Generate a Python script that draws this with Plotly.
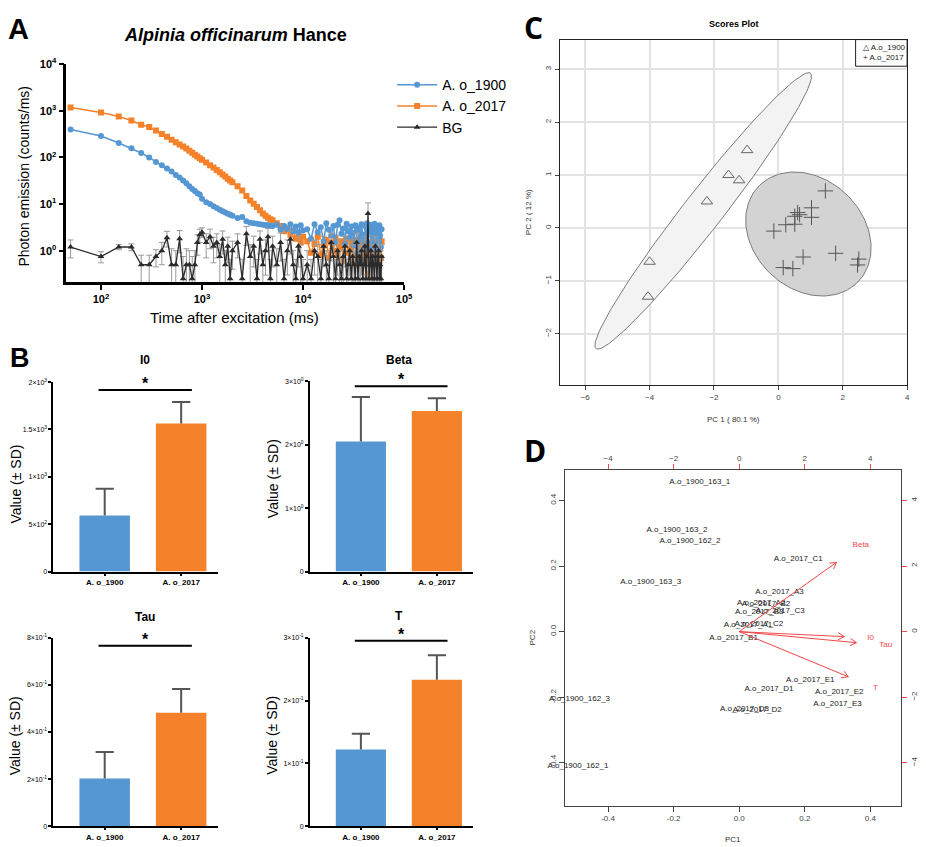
import numpy as np
import plotly.graph_objects as go

W, H = 926, 847
FONT = "Liberation Sans, Arial, sans-serif"
BLUE = "#5597d3"
ORANGE = "#f5822a"
DARK = "#2b2b2b"
RED = "#f04848"
ERR = "#555555"


def px(x):
    return x / W


def py(y):
    return 1 - y / H


# ---------------- Panel A data (delayed luminescence decay) ----------------
time_ms = (list(range(50, 1001, 50)) + list(range(1100, 2001, 100))
           + list(range(2250, 5001, 250)) + list(range(5500, 10001, 500))
           + list(range(11000, 60001, 1000)))

ao1900 = [400, 290, 205, 158, 125, 100, 80, 68, 58, 50, 42, 37, 32, 28, 24, 21, 19, 17, 16, 13,
          11, 10, 9, 8.2, 7.6, 7.0, 6.6, 6.2, 5.9, 5.6,
          5.0, 5.3, 4.3, 4.0, 3.9, 3.8, 3.7, 3.6, 3.55, 3.5, 3.45, 3.4,
          3.6, 2.8, 3.4, 2.9, 3.7, 2.6, 3.3, 2.5, 3.5, 2.7,
          2.9, 1.8, 3.7, 2.5, 3.2, 1.6, 3.9, 2.8, 2.1, 3.4,
          1.5, 3.6, 4.5, 2.3, 3.0, 1.4, 3.8, 2.6, 1.9, 3.3,
          2.4, 1.3, 3.5, 2.7, 0.9, 3.1, 1.7, 3.7, 2.2, 1.2,
          3.4, 2.0, 3.9, 1.5, 2.8, 3.6, 1.1, 2.5, 3.2, 1.6,
          3.8, 2.3, 1.0, 3.3, 2.6, 1.4, 3.5, 2.1, 1.2, 2.9]

ao2017 = [1175, 920, 760, 620, 505, 450, 380, 320, 277, 240, 212, 190, 172, 155, 140, 127, 115, 105, 96, 89,
          78, 68, 61, 54, 48, 43, 39, 35, 32, 29.5,
          24, 19.5, 15, 12, 10.2, 8.7, 7.4, 6.3, 5.6, 5.1, 4.7, 4.5,
          3.9, 3.4, 2.6, 3.0, 2.2, 2.7, 1.8, 2.4, 1.5, 2.0,
          1.6, 0.9, 1.4, 2.0, 0.8, 1.3, 1.7, 0.7, 1.5, 1.0,
          1.9, 0.8, 1.2, 1.6, 0.6, 1.4, 1.8, 0.9, 1.1, 1.5,
          0.6, 1.3, 1.7, 0.8, 1.2, 0.5, 1.6, 0.9, 1.3, 0.7,
          1.5, 0.6, 1.1, 1.4, 0.32, 1.0, 0.5, 0.8, 1.3, 0.6,
          1.2, 0.7, 1.5, 0.5, 0.9, 1.3, 0.6, 1.1, 0.7, 1.6]

bg = [1.2, 0.75, 1.2, 1.2, 0.5, 0.5, 0.75, 1.0, 1.9, 0.5, 0.5, 1.8, 0.25, 0.5, 0.5, 0.25, 0.5, 1.5, 2.2, 2.5,
      1.5, 2.0, 1.25, 1.5, 0.75, 1.75, 0.5, 1.25, 0.25, 1.0,
      1.5, 0.25, 2.3, 0.75, 1.25, 0.25, 1.75, 0.5, 1.0, 2.0, 0.25, 1.25,
      0.5, 1.5, 0.25, 1.0, 1.75, 0.5, 0.25, 1.25, 0.75, 0.25,
      0.5, 0.25, 1.0, 0.75, 0.25, 1.25, 0.5, 0.25, 1.5, 0.75,
      0.25, 1.0, 0.5, 0.25, 0.75, 1.25, 0.25, 0.5, 1.0, 0.25,
      0.75, 0.5, 0.25, 1.5, 0.25, 0.75, 0.5, 1.0, 0.25, 0.5,
      1.25, 0.25, 0.75, 6.3, 0.25, 0.5, 1.0, 0.25, 0.75, 0.5,
      0.25, 1.25, 0.5, 0.25, 0.75, 1.0, 0.25, 0.5, 0.25, 0.75]

bg_sd = [0.5, 0.2, 0.15, 0.2, 0.3, 0.3, 0.3, 0.5, 0.7, 0.6, 0.5, 0.9, 0.5, 0.6, 0.5, 0.5, 0.5, 0.7, 0.7, 0.6,
         0.8, 0.9, 0.7, 0.8, 0.6, 0.9, 0.5, 0.7, 0.4, 0.6,
         0.8, 0.4, 1.0, 0.6, 0.8, 0.4, 0.9, 0.5, 0.7, 1.0, 0.4, 0.8,
         0.6, 0.9, 0.4, 0.7, 0.9, 0.5, 0.4, 0.8, 0.6, 0.4,
         0.5, 0.4, 0.7, 0.6, 0.4, 0.8, 0.5, 0.4, 0.9, 0.6,
         0.4, 0.7, 0.5, 0.4, 0.6, 0.8, 0.4, 0.5, 0.7, 0.4,
         0.6, 0.5, 0.4, 0.9, 0.4, 0.6, 0.5, 0.7, 0.4, 0.5,
         0.8, 0.4, 0.6, 4.3, 0.4, 0.5, 0.7, 0.4, 0.6, 0.5,
         0.4, 0.8, 0.5, 0.4, 0.6, 0.7, 0.4, 0.5, 0.4, 0.6]

# ---------------- Panel B data (fit parameters, mean ± SD) ----------------
groups = ["A. o_1900", "A. o_2017"]
i0_mean, i0_sd = [591, 1562], [282, 229]
beta_mean, beta_sd = [2.05, 2.53], [0.70, 0.20]
tau_mean, tau_sd = [0.203, 0.482], [0.112, 0.100]
t_mean, t_sd = [0.122, 0.233], [0.025, 0.039]

# ---------------- Panel C data (PCA scores) ----------------
pc1_1900 = [-0.97, -1.55, -1.22, -2.22, -4.00, -4.05]
pc2_1900 = [1.47, 1.00, 0.90, 0.50, -0.64, -1.30]
pc1_2017 = [1.46, 1.03, 1.03, 0.60, 0.51, 0.66, 0.51, 0.23, -0.14, 0.77, 1.78, 2.50, 2.46, 0.15, 0.45]
pc2_2017 = [0.70, 0.38, 0.20, 0.29, 0.22, 0.25, 0.07, 0.06, -0.06, -0.55, -0.48, -0.59, -0.70, -0.75, -0.77]

# ---------------- Panel D data (biplot) ----------------
sample_names = ["A.o_1900_163_1", "A.o_1900_163_2", "A.o_1900_162_2", "A.o_1900_163_3",
                "A.o_1900_162_3", "A.o_1900_162_1",
                "A.o_2017_C1", "A.o_2017_A3", "A.o_2017_A2", "A.o_2017_B2", "A.o_2017_B3",
                "A.o_2017_C3", "A.o_2017_A1", "A.o_2017_C2", "A.o_2017_B1", "A.o_2017_E1",
                "A.o_2017_D1", "A.o_2017_E2", "A.o_2017_E3", "A.o_2017_D3", "A.o_2017_D2"]
sample_pc1 = [-0.12, -0.19, -0.15, -0.27, -0.487, -0.492,
              0.18, 0.123, 0.067, 0.082, 0.061, 0.125, 0.027, 0.060, -0.017, 0.217,
              0.091, 0.305, 0.300, 0.016, 0.055]
sample_pc2 = [0.456, 0.310, 0.276, 0.152, -0.205, -0.409,
              0.220, 0.120, 0.088, 0.085, 0.060, 0.064, 0.020, 0.022, -0.019, -0.148,
              -0.175, -0.184, -0.220, -0.235, -0.239]
var_names = ["Beta", "I0", "Tau", "T"]
load_pc1 = [3.71, 4.01, 4.47, 4.16]
load_pc2 = [2.64, -0.19, -0.42, -1.72]

fig = go.Figure()

# ---------------- Panel A traces ----------------
fig.add_trace(go.Scatter(x=time_ms, y=ao2017, mode="lines+markers", name="A. o_2017",
                         line=dict(color=ORANGE, width=1.5),
                         marker=dict(symbol="square", size=6, color=ORANGE),
                         xaxis="x", yaxis="y", legendgroup="g2", legendrank=2))
fig.add_trace(go.Scatter(x=time_ms, y=ao1900, mode="lines+markers", name="A. o_1900",
                         line=dict(color=BLUE, width=1.5),
                         marker=dict(symbol="circle", size=6, color=BLUE),
                         xaxis="x", yaxis="y", legendgroup="g1", legendrank=1))
fig.add_trace(go.Scatter(x=time_ms, y=bg, mode="lines+markers", name="BG",
                         line=dict(color=DARK, width=1.3),
                         marker=dict(symbol="triangle-up", size=6, color=DARK),
                         error_y=dict(type="data", array=bg_sd, color="#9a9a9a",
                                      thickness=1, width=3),
                         xaxis="x", yaxis="y", legendgroup="g3", legendrank=3))

# ---------------- Panel B traces ----------------
bar_sets = [(i0_mean, i0_sd, 2), (beta_mean, beta_sd, 3), (tau_mean, tau_sd, 4), (t_mean, t_sd, 5)]
for means, sds, k in bar_sets:
    fig.add_trace(go.Bar(x=[0, 1], y=means, width=0.66,
                         marker=dict(color=[BLUE, ORANGE], line=dict(width=0)),
                         xaxis=f"x{k}", yaxis=f"y{k}", showlegend=False))
    tops = [m + s for m, s in zip(means, sds)]
    stem_x, stem_y = [], []
    for i, (m, tp) in enumerate(zip(means, tops)):
        stem_x += [i, i, None]
        stem_y += [m, tp, None]
    fig.add_trace(go.Scatter(x=stem_x, y=stem_y, mode="lines", line=dict(color=ERR, width=2),
                             xaxis=f"x{k}", yaxis=f"y{k}", showlegend=False, hoverinfo="skip"))
    fig.add_trace(go.Scatter(x=[0, 1], y=tops, mode="markers",
                             marker=dict(symbol="line-ew-open", size=13, color=ERR,
                                         line=dict(color=ERR, width=2)),
                             xaxis=f"x{k}", yaxis=f"y{k}", showlegend=False, hoverinfo="skip"))


# ---------------- Panel C traces ----------------
def conf_ellipse(xs, ys, n=160):
    xs, ys = np.asarray(xs), np.asarray(ys)
    cov = np.cov(xs, ys)
    vals, vecs = np.linalg.eigh(cov)
    r = np.sqrt(5.991)  # 95 % region, 2 dof
    t = np.linspace(0, 2 * np.pi, n)
    circ = np.vstack([np.cos(t), np.sin(t)])
    pts = vecs @ (np.sqrt(vals)[:, None] * circ) * r
    return xs.mean() + pts[0], ys.mean() + pts[1]


ex1, ey1 = conf_ellipse(pc1_1900, pc2_1900)
ex2, ey2 = conf_ellipse(pc1_2017, pc2_2017)
fig.add_trace(go.Scatter(x=ex1, y=ey1, mode="lines", fill="toself", fillcolor="#f3f3f3",
                         line=dict(color="#7a7a7a", width=1), xaxis="x6", yaxis="y6",
                         showlegend=False, hoverinfo="skip"))
fig.add_trace(go.Scatter(x=ex2, y=ey2, mode="lines", fill="toself", fillcolor="#d3d3d3",
                         line=dict(color="#7a7a7a", width=1), xaxis="x6", yaxis="y6",
                         showlegend=False, hoverinfo="skip"))
fig.add_trace(go.Scatter(x=pc1_1900, y=pc2_1900, mode="markers", name="A.o_1900",
                         marker=dict(symbol="triangle-up-open", size=10, color="#666666",
                                     line=dict(width=1)),
                         xaxis="x6", yaxis="y6", showlegend=False))
fig.add_trace(go.Scatter(x=pc1_2017, y=pc2_2017, mode="markers", name="A.o_2017",
                         marker=dict(symbol="cross-thin-open", size=11, color="#555555",
                                     line=dict(width=1, color="#555555")),
                         xaxis="x6", yaxis="y6", showlegend=False))

# ---------------- Panel D traces ----------------
fig.add_trace(go.Scatter(x=sample_pc1, y=sample_pc2, mode="text", text=sample_names,
                         textfont=dict(size=8, color="#222222", family=FONT),
                         textposition="middle center", cliponaxis=False,
                         xaxis="x7", yaxis="y7", showlegend=False))
ax_x, ax_y = [], []
hl = 0.22
for lx, ly in zip(load_pc1, load_pc2):
    tx, ty = 0.8 * lx, 0.8 * ly
    ang = np.arctan2(ty, tx)
    ax_x += [0, tx, None,
             tx - hl * np.cos(ang - np.pi / 6), tx, tx - hl * np.cos(ang + np.pi / 6), None]
    ax_y += [0, ty, None,
             ty - hl * np.sin(ang - np.pi / 6), ty, ty - hl * np.sin(ang + np.pi / 6), None]
fig.add_trace(go.Scatter(x=ax_x, y=ax_y, mode="lines", line=dict(color=RED, width=1),
                         xaxis="x8", yaxis="y8", showlegend=False, hoverinfo="skip"))
fig.add_trace(go.Scatter(x=load_pc1, y=load_pc2, mode="text", text=var_names,
                         textfont=dict(size=8, color=RED, family=FONT),
                         textposition="middle center", cliponaxis=False,
                         xaxis="x8", yaxis="y8", showlegend=False))

# ---------------- Axes ----------------
sup = lambda e: f"<b>10<sup>{e}</sup></b>"
layout_axes = {}
layout_axes["xaxis"] = dict(type="log", range=[1.657, 5.0], domain=[px(67), px(408)], anchor="y",
                            showline=True, linecolor="black", linewidth=2.5, ticks="outside",
                            ticklen=5, tickwidth=2, tickcolor="black",
                            tickvals=[100, 1000, 10000, 100000], ticktext=[sup(2), sup(3), sup(4), sup(5)],
                            tickfont=dict(size=11, color="black"), showgrid=False, zeroline=False)
layout_axes["yaxis"] = dict(type="log", range=[-0.68, 4.0], domain=[py(278), py(57)], anchor="x",
                            showline=True, linecolor="black", linewidth=2.5, ticks="outside",
                            ticklen=5, tickwidth=2, tickcolor="black",
                            tickvals=[1, 10, 100, 1000, 10000],
                            ticktext=[sup(0), sup(1), sup(2), sup(3), sup(4)],
                            tickfont=dict(size=11, color="black"), showgrid=False, zeroline=False)

b_specs = {
    2: ([54, 220], [379, 571], [0, 2000], [0, 500, 1000, 1500, 2000],
        ["0", "5×10<sup>2</sup>", "1×10<sup>3</sup>", "1.5×10<sup>3</sup>", "2×10<sup>3</sup>"]),
    3: ([313, 478], [378, 571], [0, 3], [0, 1, 2, 3],
        ["0", "1×10<sup>0</sup>", "2×10<sup>0</sup>", "3×10<sup>0</sup>"]),
    4: ([54, 220], [638, 829], [0, 0.8], [0, 0.2, 0.4, 0.6, 0.8],
        ["0", "2×10<sup>-1</sup>", "4×10<sup>-1</sup>", "6×10<sup>-1</sup>", "8×10<sup>-1</sup>"]),
    5: ([313, 478], [638, 829], [0, 0.3], [0, 0.1, 0.2, 0.3],
        ["0", "1×10<sup>-1</sup>", "2×10<sup>-1</sup>", "3×10<sup>-1</sup>"]),
}
for k, (xd, yd, yr, tv, tt) in b_specs.items():
    layout_axes[f"xaxis{k}"] = dict(domain=[px(xd[0]), px(xd[1])], range=[-0.67, 1.48], anchor=f"y{k}",
                                    tickvals=[0, 1], ticktext=[f"<b>{g}</b>" for g in groups],
                                    tickfont=dict(size=8, color="black"), showline=True,
                                    linecolor="black", linewidth=2, ticks="outside", ticklen=2,
                                    tickwidth=1.5, tickcolor="black", showgrid=False, zeroline=False)
    layout_axes[f"yaxis{k}"] = dict(domain=[py(yd[1]), py(yd[0])], range=yr, anchor=f"x{k}",
                                    tickvals=tv, ticktext=tt, tickfont=dict(size=7, color="black"),
                                    showline=True, linecolor="black", linewidth=2, ticks="outside",
                                    ticklen=3, tickwidth=1.5, tickcolor="black", showgrid=False,
                                    zeroline=False)

layout_axes["xaxis6"] = dict(domain=[px(565), px(916)], range=[-6.8, 4.0], anchor="y6",
                             tickvals=[-6, -4, -2, 0, 2, 4], showgrid=True, gridcolor="#e2e2e2",
                             gridwidth=1.5, showline=True, mirror=True, linecolor="#222222",
                             linewidth=1, ticks="outside", ticklen=4, tickcolor="#444444",
                             tickfont=dict(size=8, color="#444444"), zeroline=False)
layout_axes["yaxis6"] = dict(domain=[py(382), py(32)], range=[-2.97, 3.56], anchor="x6",
                             tickvals=[-2, -1, 0, 1, 2, 3], showgrid=True, gridcolor="#e2e2e2",
                             gridwidth=1.5, showline=True, mirror=True, linecolor="#222222",
                             linewidth=1, ticks="outside", ticklen=4, tickcolor="#444444",
                             tickangle=-90, tickfont=dict(size=8, color="#444444"), zeroline=False)

layout_axes["xaxis7"] = dict(domain=[px(571), px(910)], range=[-0.53, 0.494], anchor="y7",
                             tickvals=[-0.4, -0.2, 0.0, 0.2, 0.4],
                             ticktext=["-0.4", "-0.2", "0.0", "0.2", "0.4"],
                             showline=True, mirror=True, linecolor="#444444", linewidth=1.2,
                             ticks="outside", ticklen=5, tickcolor="#444444",
                             tickfont=dict(size=8, color="#444444"), showgrid=False, zeroline=False)
layout_axes["yaxis7"] = dict(domain=[py(808), py(468)], range=[-0.53, 0.493], anchor="x7",
                             tickvals=[-0.4, -0.2, 0.0, 0.2, 0.4],
                             ticktext=["-0.4", "-0.2", "0.0", "0.2", "0.4"],
                             showline=True, mirror=True, linecolor="#444444", linewidth=1.2,
                             ticks="outside", ticklen=5, tickcolor="#444444", tickangle=-90,
                             tickfont=dict(size=8, color="#444444"), showgrid=False, zeroline=False)
layout_axes["xaxis8"] = dict(overlaying="x7", side="top", anchor="y8", range=[-5.3, 4.94],
                             tickvals=[-4, -2, 0, 2, 4], ticks="outside", ticklen=5, tickcolor=RED,
                             tickfont=dict(size=8, color="#444444"), showline=False,
                             showgrid=False, zeroline=False)
layout_axes["yaxis8"] = dict(overlaying="y7", side="right", anchor="x8", range=[-5.3, 4.93],
                             tickvals=[-4, -2, 0, 2, 4], ticks="outside", ticklen=5, tickcolor=RED,
                             tickangle=-90, tickfont=dict(size=8, color="#444444"), showline=False,
                             showgrid=False, zeroline=False)

# ---------------- Annotations / shapes ----------------
ann = []


def add_text(text, x, y, size, color="black", angle=0, family=FONT, xanchor="center"):
    ann.append(dict(text=text, x=px(x), y=py(y), xref="paper", yref="paper", showarrow=False,
                    font=dict(size=size, color=color, family=family), textangle=angle,
                    xanchor=xanchor, yanchor="middle"))


add_text("<b>A</b>", 19, 21, 29)
add_text("<b><i>Alpinia officinarum</i> Hance</b>", 238, 27, 18)
add_text("Photon emission (counts/ms)", 24, 170, 14, angle=-90)
add_text("Time after excitation (ms)", 237, 314, 15)
add_text("<b>B</b>", 20, 355, 27)
add_text("<b>I0</b>", 146, 357, 12)
add_text("<b>Beta</b>", 403, 357, 12)
add_text("<b>Tau</b>", 146, 617, 12)
add_text("<b>T</b>", 403, 616, 12)
for (xx, yy) in [(16, 482), (275, 477), (16, 737), (275, 737)]:
    add_text("Value (± SD)", xx, yy, 14, angle=-90)
add_text("<b>C</b>", 539, 20, 30, family="Open Sans, sans-serif")
add_text("<b>Scores Plot</b>", 741, 16, 9)
add_text("PC 1 ( 80.1 %)", 741, 417, 8, color="#333333")
add_text("PC 2 ( 12 %)", 533, 207, 8, color="#333333", angle=-90)
add_text("△ A.o_1900", 869, 40, 8, color="#222222", xanchor="left")
add_text("+ A.o_2017", 869, 50, 8, color="#222222", xanchor="left")
add_text("<b>D</b>", 540, 448, 30, family="Open Sans, sans-serif")
add_text("PC1", 740, 842, 8, color="#333333")
add_text("PC2", 538, 638, 8, color="#333333", angle=-90)

shapes = []
sig = [(2, 1917), (3, 2.92), (4, 0.766), (5, 0.295)]
for k, yv in sig:
    shapes.append(dict(type="line", xref=f"x{k}", yref=f"y{k}", x0=-0.08, x1=1.14, y0=yv, y1=yv,
                       line=dict(color="black", width=2)))
    ann.append(dict(text="<b>*</b>", x=0.53, y=yv, xref=f"x{k}", yref=f"y{k}", showarrow=False,
                    yanchor="bottom", yshift=-4, font=dict(size=16, color="black", family=FONT)))
shapes.append(dict(type="rect", xref="paper", yref="paper", x0=px(864), x1=px(916), y0=py(59),
                   y1=py(32), line=dict(color="#222222", width=1), fillcolor="rgba(255,255,255,0)"))

fig.update_layout(
    width=W, height=H, margin=dict(l=0, r=0, t=0, b=0),
    paper_bgcolor="white", plot_bgcolor="white",
    font=dict(family=FONT, color="black"),
    showlegend=True,
    legend=dict(x=px(396), y=py(62), xanchor="left", yanchor="top",
                font=dict(size=14, family=FONT, color="black"), bgcolor="rgba(0,0,0,0)",
                tracegroupgap=7, itemwidth=40, traceorder="normal"),
    annotations=ann, shapes=shapes, bargap=0.3,
    **layout_axes,
)

fig.write_html("out.html", config={"displayModeBar": False},
               post_script="document.body.style.margin='0px';")
